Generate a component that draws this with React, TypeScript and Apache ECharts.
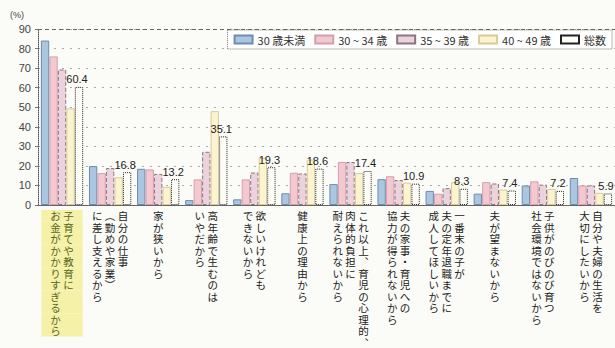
import React, { useEffect, useRef } from "react";
import * as echarts from "echarts";

const categories = [
  "子育てや教育にお金がかかりすぎるから",
  "自分の仕事(勤めや家業)に差し支えるから",
  "家が狭いから",
  "高年齢で生むのはいやだから",
  "欲しいけれどもできないから",
  "健康上の理由から",
  "これ以上、育児の心理的、肉体的負担に耐えられないから",
  "夫の家事・育児への協力が得られないから",
  "一番末の子が夫の定年退職までに成人してほしいから",
  "夫が望まないから",
  "子供がのびのび育つ社会環境ではないから",
  "自分や夫婦の生活を大切にしたいから",
];

// vertical label columns (reading order: right column first)
const labelColumns = [
  ["子育てや教育に", "お金がかかりすぎるから"],
  ["自分の仕事", "(勤めや家業)", "に差し支えるから"],
  ["家が狭いから"],
  ["高年齢で生むのは", "いやだから"],
  ["欲しいけれども", "できないから"],
  ["健康上の理由から"],
  ["これ以上、育児の心理的、", "肉体的負担に", "耐えられないから"],
  ["夫の家事・育児への", "協力が得られないから"],
  ["一番末の子が", "夫の定年退職までに", "成人してほしいから"],
  ["夫が望まないから"],
  ["子供がのびのび育つ", "社会環境ではないから"],
  ["自分や夫婦の生活を", "大切にしたいから"],
];

const seriesNames = ["30 歳未満", "30 ~ 34 歳", "35 ~ 39 歳", "40 ~ 49 歳", "総数"];

const under30 = [84.1, 19.9, 18.5, 2.5, 2.9, 6.0, 10.7, 13.2, 7.2, 5.8, 10.0, 13.8];
const age30to34 = [76.0, 16.3, 18.2, 13.1, 13.1, 16.5, 22.0, 14.7, 5.8, 11.7, 12.1, 10.0];
const age35to39 = [69.3, 18.9, 15.9, 27.2, 16.6, 16.1, 22.0, 12.8, 8.6, 11.0, 10.4, 10.0];
const age40to49 = [49.4, 14.2, 9.3, 48.0, 24.1, 23.2, 16.3, 11.4, 11.7, 7.9, 8.2, 6.2];
const total = [60.4, 16.8, 13.2, 35.1, 19.3, 18.6, 17.4, 10.9, 8.3, 7.4, 7.2, 5.9];

const yTicks = [0, 10, 20, 30, 40, 50, 60, 70, 80, 90];

const toVertical = (s: string) =>
  s.replace(/、/g, "︑").replace(/\(/g, "︵").replace(/\)/g, "︶");

const verticalLabel = (index: number) => {
  const cols = labelColumns[index].map((c) => Array.from(toVertical(c)));
  const n = Math.max(...cols.map((c) => c.length));
  const lines: string[] = [];
  for (let i = 0; i < n; i++) {
    lines.push(
      cols
        .slice()
        .reverse()
        .map((c) => c[i] ?? "　")
        .join(" ")
    );
  }
  if (index === 0) return lines.map((l) => `{hl|${l}}`).join("\n");
  return lines.join("\n");
};

const FONT = "'Liberation Sans', 'Noto Sans CJK JP', sans-serif";
const JP = "'Noto Sans CJK JP', sans-serif";

export default function App() {
  const ref = useRef<HTMLDivElement>(null);
  useEffect(() => {
    document.body.style.margin = "0";
    if (!ref.current) return;
    const chart = echarts.init(ref.current, null, { renderer: "svg" });
    const styles = [
      { color: "#abc6df", borderColor: "#6c8db0", borderType: "solid" },
      { color: "#f4c8d0", borderColor: "#d3a0aa", borderType: "solid" },
      { color: "#ecd2dd", borderColor: "#8e7480", borderType: "dashed" },
      { color: "#fbf4cf", borderColor: "#d5cb9c", borderType: "solid" },
      { color: "#fdfdf8", borderColor: "#222222", borderType: "dotted" },
    ];
    const datas = [under30, age30to34, age35to39, age40to49, total];
    chart.setOption({
      animation: false,
      backgroundColor: "#fbfbf7",
      textStyle: { fontFamily: FONT },
      legend: {
        top: 30,
        right: 3,
        data: seriesNames,
        icon: "rect",
        itemWidth: 18,
        itemHeight: 8,
        itemGap: 9,
        padding: [4, 6],
        borderColor: "#777",
        borderWidth: 1,
        borderType: "dotted",
        backgroundColor: "#ffffff",
        textStyle: { fontSize: 11, color: "#333", fontFamily: JP },
      },
      grid: { left: 38, right: -7, top: 29, bottom: 106 },
      xAxis: {
        type: "category",
        data: categories,
        axisLine: { show: true, lineStyle: { color: "#666", width: 1 } },
        axisTick: { show: false },
        axisLabel: {
          interval: 0,
          margin: 5,
          fontSize: 10.5,
          lineHeight: 11.5,
          color: "#222",
          fontFamily: JP,
          formatter: (_v: string, i: number) => verticalLabel(i),
          rich: {
            hl: {
              backgroundColor: "#f6f1a8",
              color: "#55661f",
              fontSize: 10.5,
              lineHeight: 11.5,
              height: 11.5,
              padding: [0, 9],
              fontFamily: JP,
            },
          },
        },
      },
      yAxis: {
        type: "value",
        min: 0,
        max: 90,
        interval: 10,
        name: "(%)",
        nameLocation: "end",
        nameGap: 10,
        nameTextStyle: { fontSize: 9, color: "#444", align: "right", padding: [0, 14, 0, 0] },
        axisLine: { show: true, lineStyle: { color: "#555", type: "dotted" } },
        axisTick: { show: true, length: 3, lineStyle: { color: "#777" } },
        axisLabel: {
          fontSize: 11,
          color: "#444",
          margin: 7,
          formatter: (v: number) => (yTicks.includes(v) ? String(v) : ""),
        },
        splitLine: { show: true, lineStyle: { color: "#aaa", type: [2, 6], width: 1 } },
      },
      series: seriesNames.map((name, si) => ({
        name,
        type: "bar",
        data: datas[si],
        barGap: "2%",
        barCategoryGap: "12%",
        itemStyle: {
          color: styles[si].color,
          borderColor: styles[si].borderColor,
          borderWidth: 1,
          borderType: styles[si].borderType,
        },
        label:
          si === 4
            ? {
                show: true,
                position: "top",
                distance: 2,
                offset: [-2, 0],
                fontSize: 11,
                color: "#222",
                formatter: (p: any) => Number(p.value).toFixed(1),
              }
            : { show: false },
        markLine:
          si === 4
            ? {
                silent: true,
                symbol: "none",
                label: { show: false },
                lineStyle: { color: "#666", type: [4, 3], width: 1 },
                data: [{ yAxis: 90 }],
              }
            : undefined,
      })),
    });
    return () => chart.dispose();
  }, []);
  return <div ref={ref} style={{ width: 615, height: 348 }} />;
}
